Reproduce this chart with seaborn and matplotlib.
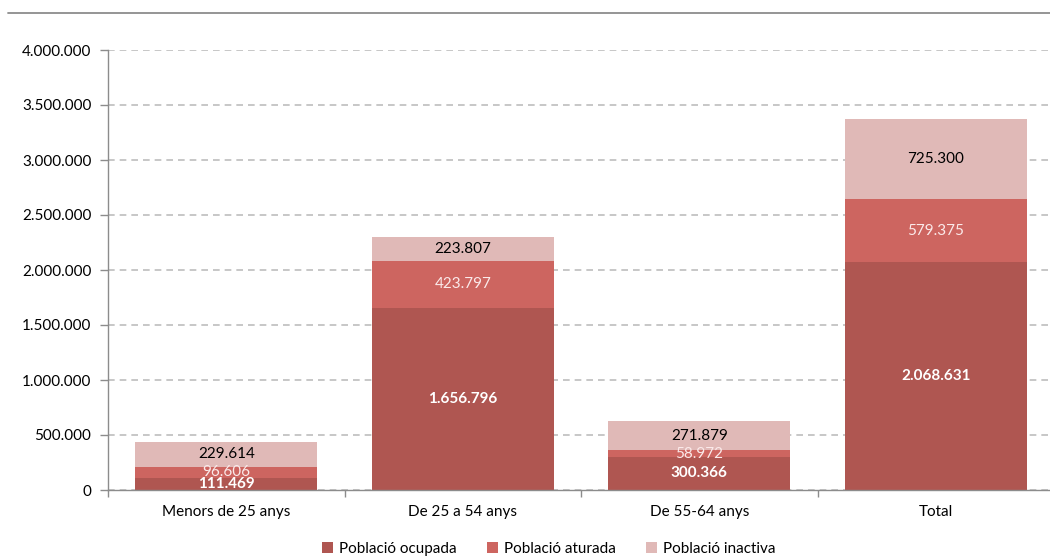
import matplotlib
matplotlib.use("Agg")
import matplotlib.pyplot as plt
import seaborn as sns
import numpy as np
import pandas as pd
from matplotlib.lines import Line2D
from matplotlib.patches import Patch

categories = ["Menors de 25 anys", "De 25 a 54 anys", "De 55-64 anys", "Total"]
ocupada = [111469, 1656796, 300366, 2068631]
aturada = [96606, 423797, 58972, 579375]
inactiva = [229614, 223807, 271879, 725300]
series_names = ["Població ocupada", "Població aturada", "Població inactiva"]
colors = ["#AF5651", "#CD6560", "#E0B9B7"]
label_colors = ["white", "#FBEAEA", "black"]
label_weights = ["bold", "normal", "normal"]

sns.set_theme(style="white")
plt.rcParams["font.family"] = ["Lato", "DejaVu Sans"]
plt.rcParams["text.color"] = "black"
plt.rcParams["xtick.color"] = "black"
plt.rcParams["ytick.color"] = "black"

fig = plt.figure(figsize=(10.5, 5.59), dpi=100)
ax = fig.add_axes([108/1050, 69/559, (1054-108)/1050, 440/559])

df = pd.DataFrame({"cat": categories, "ocupada": ocupada, "aturada": aturada, "inactiva": inactiva})
df["c1"] = df["ocupada"]
df["c2"] = df["ocupada"] + df["aturada"]
df["c3"] = df["c2"] + df["inactiva"]

for col, color in zip(["c3", "c2", "c1"], colors[::-1]):
    sns.barplot(data=df, x="cat", y=col, color=color, width=0.77, ax=ax,
                saturation=1, edgecolor="none", zorder=2)

# labels
bottoms = np.zeros(len(categories))
for vals, lc, lw in zip([ocupada, aturada, inactiva], label_colors, label_weights):
    for i, v in enumerate(vals):
        s = f"{v:,}".replace(",", ".")
        ax.text(i, bottoms[i] + v / 2, s, ha="center", va="center", color=lc,
                fontsize=11, fontweight=lw, zorder=5)
    bottoms += np.array(vals)

ax.set_ylim(0, 4000000)
ax.set_xlim(-0.5, 3.5)
yt = np.arange(0, 4000001, 500000)
ax.set_yticks(yt)
ax.set_yticklabels([f"{int(t):,}".replace(",", ".") for t in yt], fontsize=11)
ax.yaxis.grid(True, linestyle=(0, (4, 3)), color="#BDBDBD", linewidth=1.2, zorder=0)
ax.xaxis.grid(False)
ax.set_axisbelow(True)
ax.set_xlabel("")
ax.set_ylabel("")
ax.tick_params(axis="x", which="major", length=0, labelsize=11, pad=11, labelcolor="black")
ax.set_xticks([-0.5, 0.5, 1.5, 2.5], minor=True)
ax.tick_params(axis="x", which="minor", length=5, color="#8C8C8C", width=1, direction="out", bottom=True)
ax.tick_params(axis="y", length=6, color="#8C8C8C", width=1, direction="out", left=True, pad=6,
               labelcolor="black")
for sp in ["top", "right"]:
    ax.spines[sp].set_visible(False)
for sp in ["left", "bottom"]:
    ax.spines[sp].set_color("#8C8C8C")
    ax.spines[sp].set_linewidth(1)

# top rule
fig.add_artist(Line2D([8/1050, 1.0], [1 - 13/559, 1 - 13/559], color="#8C8C8C", linewidth=1.3))

handles = [Patch(facecolor=c, edgecolor="none") for c in colors]
fig.legend(handles, series_names, loc="center", bbox_to_anchor=(549/1050, 1 - 549/559),
           ncol=3, frameon=False, fontsize=11, handlelength=0.7, handleheight=0.7,
           handletextpad=0.4, columnspacing=2.0)

fig.savefig("out.png", dpi=100)
